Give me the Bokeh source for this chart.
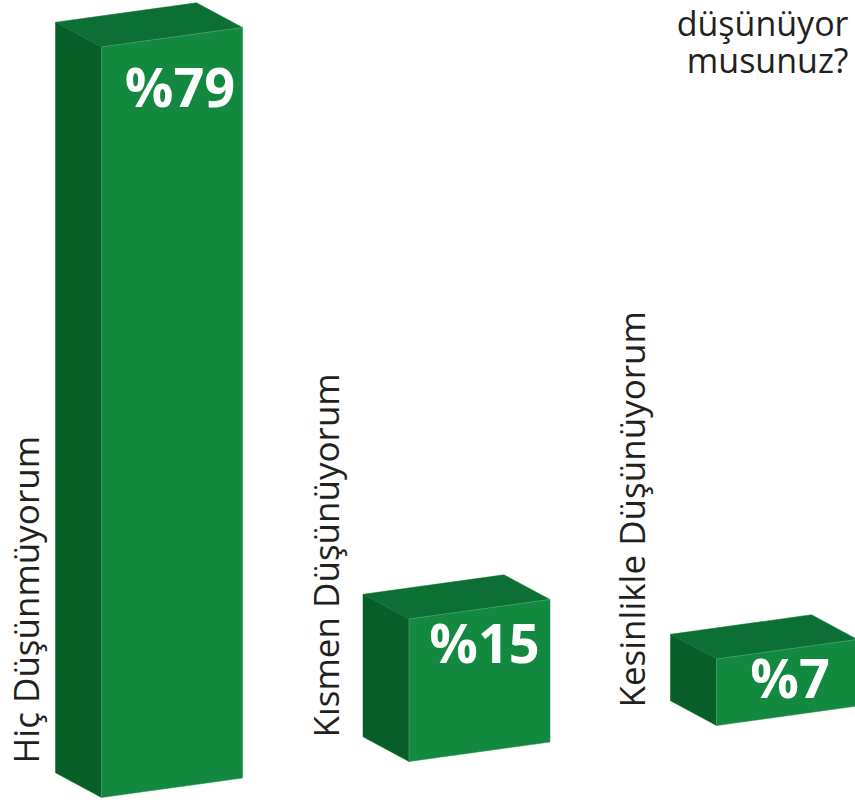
from bokeh.plotting import figure
from bokeh.models import Range1d, Label
from bokeh.embed import file_html
from bokeh.resources import INLINE
import math

# ---- data ----
categories = ["Hiç Düşünmüyorum", "Kısmen Düşünüyorum", "Kesinlikle Düşünüyorum"]
values = [79, 15, 7]
value_labels = ["%79", "%15", "%7"]
title_lines = ["düşünüyor", "musunuz?"]

# ---- layout / style constants (screen px, y downward) ----
W, H = 855, 804
origin_x, origin_y = 101.0, 797.0      # front-bottom-left of first bar
step = (307.5, -36.0)                  # offset between bars
width_vec = (141.0, -19.5)             # front face width direction
depth_vec = (-46.0, -24.7)             # depth direction
px_per_unit = 9.5

front_col = "#13893F"
side_col = "#075E26"
top_col = "#0C7034"
seam_col = "#5DBB7E"

cat_dx = [-76, -84, -85]
cat_dy = [-34, -24, -18]
lab_dx = [8, 5, 3]
lab_dy = [39, 23, 18]
title_y = [22, 59]

p = figure(width=W, height=H, x_range=Range1d(0, W), y_range=Range1d(0, H),
           output_backend="svg", toolbar_location=None, min_border=0,
           x_axis_type=None, y_axis_type=None, outline_line_color=None,
           background_fill_color="white", border_fill_color="white")
p.grid.visible = False


def Y(sy):
    return H - sy


fx, fy, sx_, sy_, tx, ty = [], [], [], [], [], []
seam_xs, seam_ys = [], []
lab_x, lab_y, cat_x, cat_y = [], [], [], []
for i, v in enumerate(values):
    x0 = origin_x + step[0] * i
    y0 = origin_y + step[1] * i
    h = v * px_per_unit
    fbl = (x0, y0)
    fbr = (x0 + width_vec[0], y0 + width_vec[1])
    ftr = (fbr[0], fbr[1] - h)
    ftl = (x0, y0 - h)
    btl = (ftl[0] + depth_vec[0], ftl[1] + depth_vec[1])
    btr = (ftr[0] + depth_vec[0], ftr[1] + depth_vec[1])
    bbl = (fbl[0] + depth_vec[0], fbl[1] + depth_vec[1])
    for pts, xs, ys in (([fbl, fbr, ftr, ftl], fx, fy),
                        ([fbl, ftl, btl, bbl], sx_, sy_),
                        ([ftl, ftr, btr, btl], tx, ty)):
        xs.append([q[0] for q in pts])
        ys.append([Y(q[1]) for q in pts])
    seam_xs.append([fbl[0], ftl[0], ftr[0]])
    seam_ys.append([Y(fbl[1]), Y(ftl[1]), Y(ftr[1])])
    lab_x.append((ftl[0] + ftr[0]) / 2 + lab_dx[i])
    lab_y.append(Y(ftl[1] + lab_dy[i]))
    cat_x.append(x0 + cat_dx[i])
    cat_y.append(Y(y0 + cat_dy[i]))

p.patches(fx, fy, fill_color=front_col, line_color=front_col, line_width=0.5)
p.patches(sx_, sy_, fill_color=side_col, line_color=side_col, line_width=0.5)
p.patches(tx, ty, fill_color=top_col, line_color=top_col, line_width=0.5)
p.multi_line(seam_xs, seam_ys, line_color=seam_col, line_width=0.8, line_alpha=0.7)

for i in range(len(values)):
    p.add_layout(Label(x=lab_x[i], y=lab_y[i], text=value_labels[i],
                       text_color="white", text_font="Open Sans",
                       text_font_style="bold", text_font_size="54px",
                       text_align="center", text_baseline="alphabetic"))

for i in range(len(categories)):
    p.add_layout(Label(x=cat_x[i], y=cat_y[i], text=categories[i],
                       angle=math.pi / 2, text_color="#231F20",
                       text_font="Open Sans", text_font_size="35px",
                       text_align="left", text_baseline="alphabetic"))

for j, t in enumerate(title_lines):
    p.add_layout(Label(x=848, y=Y(title_y[j]), text=t,
                       text_color="#231F20", text_font="Open Sans",
                       text_font_size="34px", text_align="right",
                       text_baseline="alphabetic"))

open("out.html", "w").write(file_html(p, INLINE))
